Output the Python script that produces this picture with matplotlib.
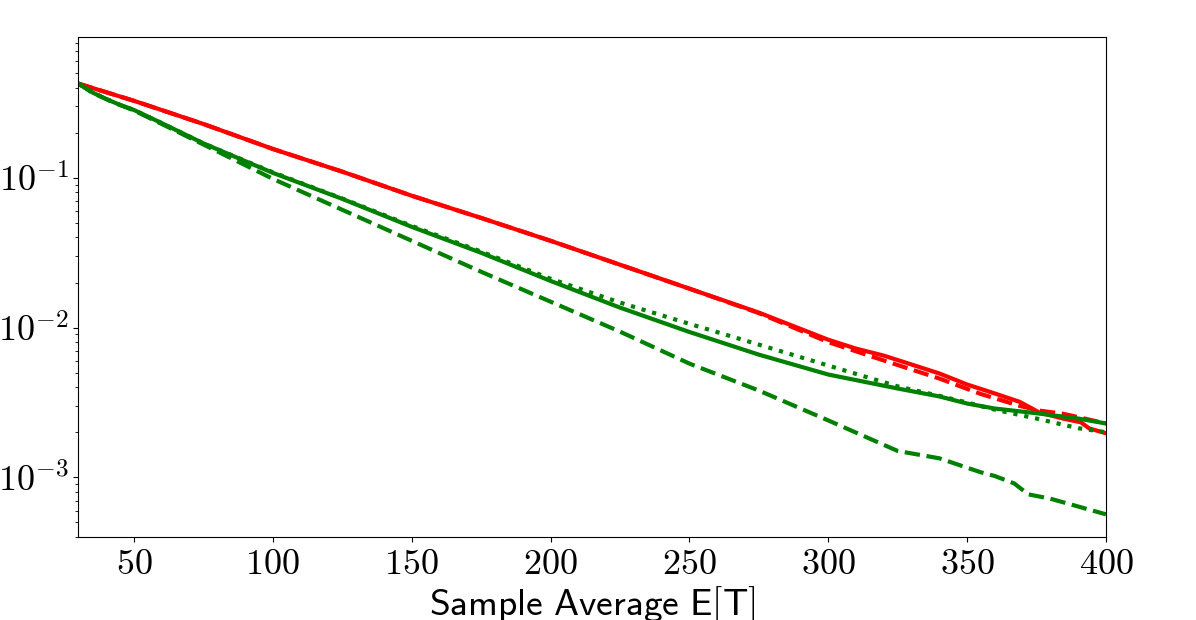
import matplotlib
matplotlib.use("Agg")
import matplotlib.pyplot as plt
from matplotlib.ticker import FuncFormatter, LogLocator
import math

plt.rcParams['mathtext.fontset'] = 'cm'

# ---- data ----
red_solid_x = [30, 50, 75, 100, 125, 150, 175, 200, 225, 250, 275, 300, 310, 320, 330, 340, 350, 360, 369, 376, 384.5, 391, 394, 400]
red_solid_y = [0.426, 0.327, 0.229, 0.156, 0.110, 0.076, 0.054, 0.038, 0.0263, 0.0182, 0.0126, 0.0083, 0.00724, 0.0065, 0.00567, 0.00494, 0.00417, 0.00363, 0.00319, 0.00271, 0.00247, 0.00233, 0.00212, 0.00197]

red_dash_x = [30, 50, 75, 100, 125, 150, 175, 200, 225, 250, 275, 300, 320, 340, 355, 369, 376, 384.5, 391, 400]
red_dash_y = [0.426, 0.327, 0.229, 0.156, 0.110, 0.076, 0.054, 0.038, 0.0263, 0.0182, 0.0125, 0.0080, 0.00603, 0.00457, 0.0036, 0.0030, 0.00279, 0.00266, 0.0025, 0.00229]

green_solid_x = [30, 35, 40, 45, 50, 60, 75, 100, 125, 150, 175, 200, 225, 250, 275, 300, 325, 340, 350, 360, 375, 390, 400]
green_solid_y = [0.426, 0.372, 0.336, 0.307, 0.284, 0.232, 0.170, 0.108, 0.0724, 0.0471, 0.0316, 0.0205, 0.0136, 0.00935, 0.0066, 0.00486, 0.00392, 0.00347, 0.00311, 0.00288, 0.00268, 0.00247, 0.00229]

green_dot_x = [30, 35, 40, 45, 50, 60, 75, 100, 125, 150, 175, 200, 225, 250, 275, 300, 325, 340, 350, 360, 375, 390, 400]
green_dot_y = [0.426, 0.372, 0.336, 0.307, 0.284, 0.232, 0.170, 0.109, 0.0728, 0.0478, 0.0322, 0.0212, 0.0147, 0.0106, 0.0077, 0.00558, 0.00405, 0.0035, 0.00316, 0.00283, 0.00247, 0.00213, 0.0020]

green_dash_x = [30, 35, 40, 45, 50, 60, 75, 100, 125, 150, 175, 200, 225, 250, 275, 300, 325, 340, 350, 355, 360, 367, 372, 380, 386, 400]
green_dash_y = [0.426, 0.372, 0.336, 0.307, 0.282, 0.229, 0.167, 0.0985, 0.0612, 0.038, 0.0236, 0.0149, 0.0094, 0.00575, 0.0038, 0.0024, 0.0015, 0.00134, 0.00116, 0.00108, 0.00102, 0.00091, 0.00077, 0.00072, 0.00067, 0.000566]

x_ticks = [50, 100, 150, 200, 250, 300, 350, 400]

fig = plt.figure(figsize=(11.96, 6.2), dpi=100)
ax = fig.add_axes([0.0656, 0.134, 0.8591, 0.806])

lw = 3
ax.plot(red_solid_x, red_solid_y, color='#ff0000', lw=lw, ls='-')
ax.plot(red_dash_x, red_dash_y, color='#ff0000', lw=lw, ls='--')
ax.plot(green_solid_x, green_solid_y, color='green', lw=lw, ls='-')
ax.plot(green_dot_x, green_dot_y, color='green', lw=lw, ls=':')
ax.plot(green_dash_x, green_dash_y, color='green', lw=lw, ls='--')

ax.set_yscale('log')
ax.set_xlim(30, 400)
ax.set_ylim(4.0e-4, 0.87)

ax.set_xticks(x_ticks)
ax.xaxis.set_major_formatter(FuncFormatter(lambda v, p: r'$%d$' % v))
ax.yaxis.set_major_locator(LogLocator(base=10))
ax.yaxis.set_minor_locator(LogLocator(base=10, subs=range(2, 10)))


def yfmt(v, p):
    e = int(round(math.log10(v)))
    return r'$10^{%d}$' % e


ax.yaxis.set_major_formatter(FuncFormatter(yfmt))
ax.tick_params(axis='both', which='major', labelsize=26)

ax.set_xlabel(r'$\mathsf{Sample\ Average\ E[T]}$', fontsize=27, labelpad=3)

fig.savefig('out.png', dpi=100)
